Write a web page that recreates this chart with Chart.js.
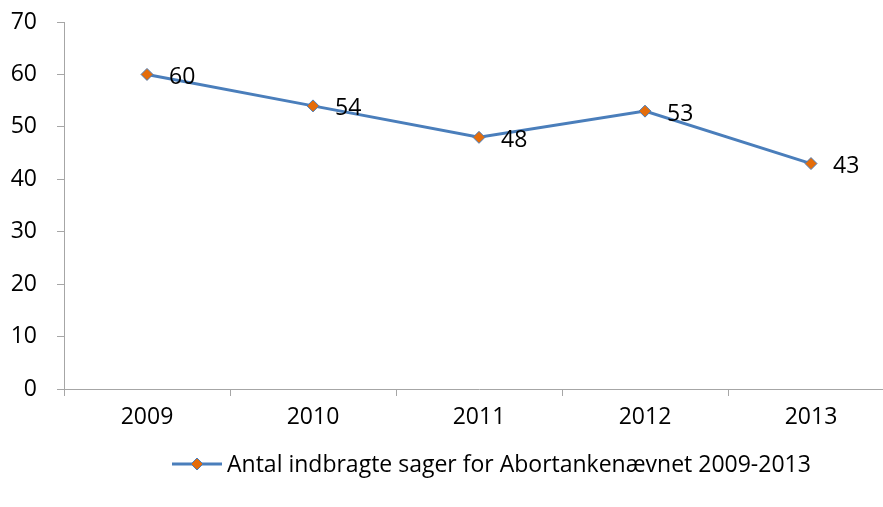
<!DOCTYPE html>
<html>
<head>
<meta charset="utf-8">
<script src="https://cdn.jsdelivr.net/npm/chart.js@4"></script>
<style>
  html, body { margin: 0; padding: 0; background: #fff; overflow: hidden; }
  #wrap { width: 883px; height: 507px; overflow: hidden; }
</style>
</head>
<body>
<div id="wrap"><canvas id="myChart" width="901" height="507"></canvas></div>
<script>
const years = ['2009', '2010', '2011', '2012', '2013']
const cases = [60, 54, 48, 53, 43]
const seriesLabel = 'Antal indbragte sager for Abortankenævnet 2009-2013'

const colors = {
  line: '#4a7ebb',
  marker: '#e46c0a',
  markerBorder: '#4a7ebb',
  axis: '#a6a6a6',
  text: '#000000'
}
const fontFamily = "'Open Sans', 'Liberation Sans', sans-serif"
const fontSize = 23

// value labels to the right of each point
const pointLabels = {
  id: 'pointLabels',
  afterDatasetsDraw(chart) {
    const ctx = chart.ctx
    const meta = chart.getDatasetMeta(0)
    ctx.save()
    ctx.font = fontSize + 'px ' + fontFamily
    ctx.fillStyle = colors.text
    ctx.textBaseline = 'middle'
    ctx.textAlign = 'left'
    meta.data.forEach((pt, i) => {
      ctx.fillText(String(cases[i]), pt.x + 22, pt.y + 3)
    })
    ctx.restore()
  }
}

// legend drawn like Excel: line with diamond marker
const bottomLegend = {
  id: 'bottomLegend',
  afterDraw(chart) {
    const ctx = chart.ctx
    const y = 464
    const x0 = 172
    const x1 = 222
    ctx.save()
    ctx.strokeStyle = colors.line
    ctx.lineWidth = 3
    ctx.beginPath()
    ctx.moveTo(x0, y)
    ctx.lineTo(x1, y)
    ctx.stroke()
    const cx = (x0 + x1) / 2
    const r = 6
    ctx.fillStyle = colors.marker
    ctx.strokeStyle = colors.markerBorder
    ctx.lineWidth = 1
    ctx.beginPath()
    ctx.moveTo(cx, y - r)
    ctx.lineTo(cx + r, y)
    ctx.lineTo(cx, y + r)
    ctx.lineTo(cx - r, y)
    ctx.closePath()
    ctx.fill()
    ctx.stroke()
    ctx.font = fontSize + 'px ' + fontFamily
    ctx.fillStyle = colors.text
    ctx.textBaseline = 'middle'
    ctx.fillText(seriesLabel, x1 + 5, y + 1)
    ctx.restore()
  }
}

const ctx = document.getElementById('myChart').getContext('2d')

new Chart(ctx, {
  type: 'line',
  data: {
    labels: years,
    datasets: [
      {
        label: seriesLabel,
        data: cases,
        borderColor: colors.line,
        borderWidth: 3,
        tension: 0,
        pointStyle: 'rectRot',
        pointRadius: 6,
        pointBackgroundColor: colors.marker,
        pointBorderColor: colors.markerBorder,
        pointBorderWidth: 1
      }
    ]
  },
  options: {
    responsive: false,
    animation: false,
    layout: {
      padding: { left: 0, right: 0, top: 22, bottom: 60 }
    },
    plugins: {
      legend: { display: false },
      tooltip: { enabled: false }
    },
    scales: {
      x: {
        offset: true,
        afterFit(scale) {
          scale.height = 58
          scale.paddingLeft = 0
          scale.paddingRight = 0
        },
        grid: {
          offset: true,
          drawOnChartArea: false,
          color: colors.axis,
          tickLength: 7
        },
        border: { color: colors.axis },
        ticks: {
          color: colors.text,
          font: { family: fontFamily, size: fontSize },
          padding: 8,
          maxRotation: 0
        }
      },
      y: {
        min: 0,
        max: 70,
        afterFit(scale) {
          scale.width = 64
          scale.paddingTop = 0
          scale.paddingBottom = 0
        },
        grid: {
          drawOnChartArea: false,
          color: colors.axis,
          tickLength: 7
        },
        border: { color: colors.axis },
        ticks: {
          stepSize: 10,
          color: colors.text,
          font: { family: fontFamily, size: fontSize },
          padding: 20
        }
      }
    }
  },
  plugins: [pointLabels, bottomLegend]
})
</script>
</body>
</html>
